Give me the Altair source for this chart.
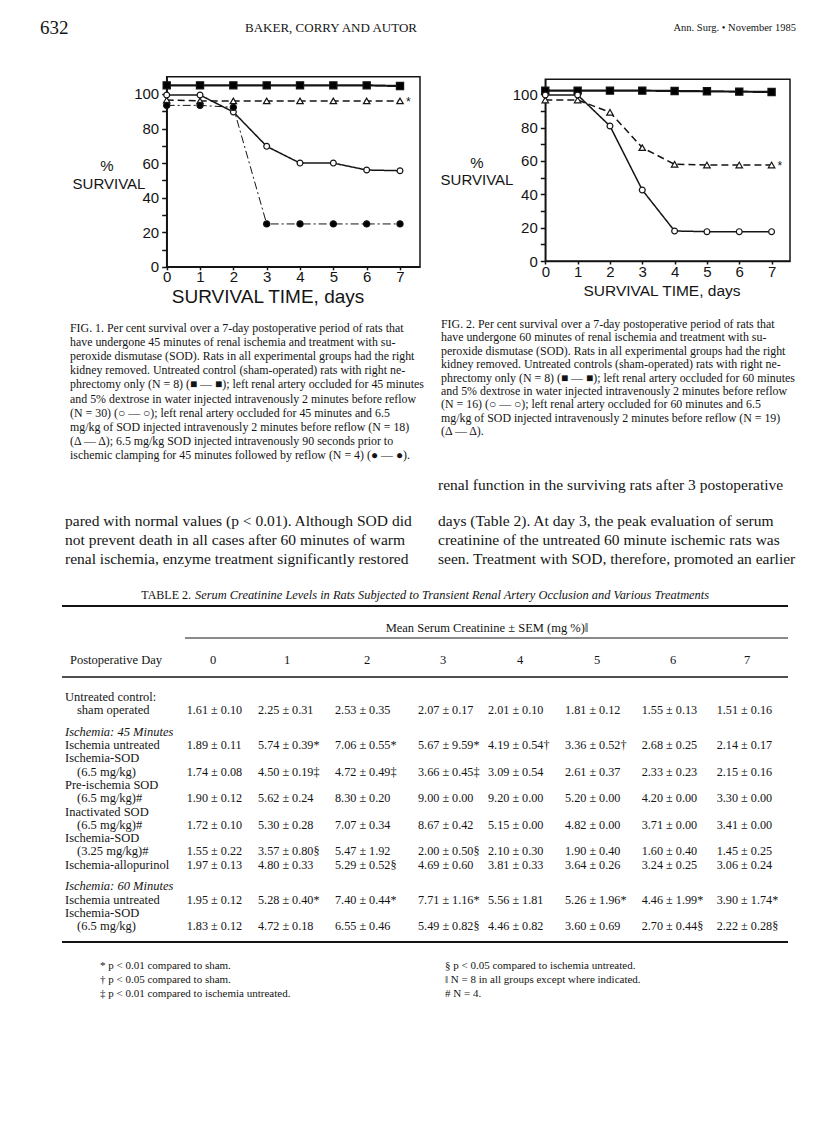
import altair as alt
import pandas as pd

# ---------------- data (read from the page) ----------------
DAYS = [0, 1, 2, 3, 4, 5, 6, 7]
SERIES = ["sham", "untreated", "sod", "pre"]

FIG1_SHAM = [105.0, 105.0, 105.0, 105.0, 105.0, 105.0, 105.0, 104.6]
FIG1_UNTREATED = [99.4, 99.4, 89.6, 69.7, 60.0, 60.0, 56.0, 55.6]
FIG1_SOD = [96.5, 96.0, 96.0, 96.0, 96.0, 96.0, 96.0, 96.0]
FIG1_PRE = [93.4, 93.4, 92.3, 24.8, 24.8, 24.8, 24.8, 24.8]

FIG2_SHAM = [102.2, 102.2, 102.2, 102.2, 102.0, 101.8, 101.6, 101.4]
FIG2_UNTREATED = [99.6, 99.6, 81.0, 42.6, 18.0, 17.6, 17.6, 17.6]
FIG2_SOD = [96.6, 96.6, 89.2, 68.0, 58.0, 57.6, 57.6, 57.6]

Y_TICKS = [0, 10, 20, 30, 40, 50, 60, 70, 80, 90, 100]

HEADER_LEFT = "632"
HEADER_CENTER = "BAKER, CORRY AND AUTOR"
HEADER_RIGHT = "Ann. Surg. \u2022 November 1985"
Y_TITLE = ["%", "SURVIVAL"]
X_TITLE = "SURVIVAL TIME, days"

CAPTION1 = [
    "FIG. 1. Per cent survival over a 7-day postoperative period of rats that",
    "have undergone 45 minutes of renal ischemia and treatment with su-",
    "peroxide dismutase (SOD). Rats in all experimental groups had the right",
    "kidney removed. Untreated control (sham-operated) rats with right ne-",
    "phrectomy only (N = 8) (\u25a0 \u2014 \u25a0); left renal artery occluded for 45 minutes",
    "and 5% dextrose in water injected intravenously 2 minutes before reflow",
    "(N = 30) (\u25cb \u2014 \u25cb); left renal artery occluded for 45 minutes and 6.5",
    "mg/kg of SOD injected intravenously 2 minutes before reflow (N = 18)",
    "(\u0394 \u2014 \u0394); 6.5 mg/kg SOD injected intravenously 90 seconds prior to",
    "ischemic clamping for 45 minutes followed by reflow (N = 4) (\u25cf \u2014 \u25cf).",
]
CAPTION2 = [
    "FIG. 2. Per cent survival over a 7-day postoperative period of rats that",
    "have undergone 60 minutes of renal ischemia and treatment with su-",
    "peroxide dismutase (SOD). Rats in all experimental groups had the right",
    "kidney removed. Untreated controls (sham-operated) rats with right ne-",
    "phrectomy only (N = 8) (\u25a0 \u2014 \u25a0); left renal artery occluded for 60 minutes",
    "and 5% dextrose in water injected intravenously 2 minutes before reflow",
    "(N = 16) (\u25cb \u2014 \u25cb); left renal artery occluded for 60 minutes and 6.5",
    "mg/kg of SOD injected intravenously 2 minutes before reflow (N = 19)",
    "(\u0394 \u2014 \u0394).",
]
BODY_LEFT = [
    "pared with normal values (p < 0.01). Although SOD did",
    "not prevent death in all cases after 60 minutes of warm",
    "renal ischemia, enzyme treatment significantly restored",
]
BODY_RIGHT_TOP = ["renal function in the surviving rats after 3 postoperative"]
BODY_RIGHT = [
    "days (Table 2). At day 3, the peak evaluation of serum",
    "creatinine of the untreated 60 minute ischemic rats was",
    "seen. Treatment with SOD, therefore, promoted an earlier",
]

TABLE_LABEL = "TABLE 2."
TABLE_TITLE = "Serum Creatinine Levels in Rats Subjected to Transient Renal Artery Occlusion and Various Treatments"
TABLE_SPANNER = "Mean Serum Creatinine \u00b1 SEM (mg %)\u2016"
TABLE_STUB = "Postoperative Day"
TABLE_DAYS = ["0", "1", "2", "3", "4", "5", "6", "7"]
ROW_LINES = [
    ("Untreated control:", "label"),
    ("sham operated", "indent"),
    ("Ischemia: 45 Minutes", "section"),
    ("Ischemia untreated", "label"),
    ("Ischemia-SOD", "label"),
    ("(6.5 mg/kg)", "indent"),
    ("Pre-ischemia SOD", "label"),
    ("(6.5 mg/kg)#", "indent"),
    ("Inactivated SOD", "label"),
    ("(6.5 mg/kg)#", "indent"),
    ("Ischemia-SOD", "label"),
    ("(3.25 mg/kg)#", "indent"),
    ("Ischemia-allopurinol", "label"),
    ("Ischemia: 60 Minutes", "section"),
    ("Ischemia untreated", "label"),
    ("Ischemia-SOD", "label"),
    ("(6.5 mg/kg)", "indent"),
]
ROW_SHAM = ["1.61 \u00b1 0.10", "2.25 \u00b1 0.31", "2.53 \u00b1 0.35", "2.07 \u00b1 0.17", "2.01 \u00b1 0.10", "1.81 \u00b1 0.12", "1.55 \u00b1 0.13", "1.51 \u00b1 0.16"]
ROW_45_UNTREATED = ["1.89 \u00b1 0.11", "5.74 \u00b1 0.39*", "7.06 \u00b1 0.55*", "5.67 \u00b1 9.59*", "4.19 \u00b1 0.54\u2020", "3.36 \u00b1 0.52\u2020", "2.68 \u00b1 0.25", "2.14 \u00b1 0.17"]
ROW_45_SOD = ["1.74 \u00b1 0.08", "4.50 \u00b1 0.19\u2021", "4.72 \u00b1 0.49\u2021", "3.66 \u00b1 0.45\u2021", "3.09 \u00b1 0.54", "2.61 \u00b1 0.37", "2.33 \u00b1 0.23", "2.15 \u00b1 0.16"]
ROW_PRE_SOD = ["1.90 \u00b1 0.12", "5.62 \u00b1 0.24", "8.30 \u00b1 0.20", "9.00 \u00b1 0.00", "9.20 \u00b1 0.00", "5.20 \u00b1 0.00", "4.20 \u00b1 0.00", "3.30 \u00b1 0.00"]
ROW_INACT_SOD = ["1.72 \u00b1 0.10", "5.30 \u00b1 0.28", "7.07 \u00b1 0.34", "8.67 \u00b1 0.42", "5.15 \u00b1 0.00", "4.82 \u00b1 0.00", "3.71 \u00b1 0.00", "3.41 \u00b1 0.00"]
ROW_SOD_325 = ["1.55 \u00b1 0.22", "3.57 \u00b1 0.80\u00a7", "5.47 \u00b1 1.92", "2.00 \u00b1 0.50\u00a7", "2.10 \u00b1 0.30", "1.90 \u00b1 0.40", "1.60 \u00b1 0.40", "1.45 \u00b1 0.25"]
ROW_ALLOPURINOL = ["1.97 \u00b1 0.13", "4.80 \u00b1 0.33", "5.29 \u00b1 0.52\u00a7", "4.69 \u00b1 0.60", "3.81 \u00b1 0.33", "3.64 \u00b1 0.26", "3.24 \u00b1 0.25", "3.06 \u00b1 0.24"]
ROW_60_UNTREATED = ["1.95 \u00b1 0.12", "5.28 \u00b1 0.40*", "7.40 \u00b1 0.44*", "7.71 \u00b1 1.16*", "5.56 \u00b1 1.81", "5.26 \u00b1 1.96*", "4.46 \u00b1 1.99*", "3.90 \u00b1 1.74*"]
ROW_60_SOD = ["1.83 \u00b1 0.12", "4.72 \u00b1 0.18", "6.55 \u00b1 0.46", "5.49 \u00b1 0.82\u00a7", "4.46 \u00b1 0.82", "3.60 \u00b1 0.69", "2.70 \u00b1 0.44\u00a7", "2.22 \u00b1 0.28\u00a7"]
VALUE_ROWS = [ROW_SHAM, ROW_45_UNTREATED, ROW_45_SOD, ROW_PRE_SOD, ROW_INACT_SOD,
              ROW_SOD_325, ROW_ALLOPURINOL, ROW_60_UNTREATED, ROW_60_SOD]
VALUE_ROW_LINE = [1, 3, 5, 7, 9, 11, 12, 14, 16]

FOOT_LEFT = ["* p < 0.01 compared to sham.",
             "\u2020 p < 0.05 compared to sham.",
             "\u2021 p < 0.01 compared to ischemia untreated."]
FOOT_RIGHT = ["\u00a7 p < 0.05 compared to ischemia untreated.",
              "\u2016 N = 8 in all groups except where indicated.",
              "# N = 4."]

# ---------------- layout (page pixels) ----------------
OFF = 8  # body margin
W, H = 800, 1120
SERIF = "Liberation Serif"
SANS = "Liberation Sans"
INK = "#141414"


def text_layer(items, size, font=SERIF, style="normal", weight="normal", align="left"):
    df = pd.DataFrame(items, columns=["text", "x", "y"])
    df["x"] = df["x"] - OFF
    df["y"] = df["y"] - OFF
    return alt.Chart(df).mark_text(
        font=font, fontSize=size, fontStyle=style, fontWeight=weight,
        align=align, baseline="middle", color=INK
    ).encode(
        x=alt.X("x:Q", scale=None, axis=None),
        y=alt.Y("y:Q", scale=None, axis=None),
        text="text:N",
    )


def block(lines, x, y0, step):
    return [(t, x, y0 + i * step) for i, t in enumerate(lines)]


layers = []
# header
layers.append(text_layer([(HEADER_LEFT, 40, 28)], 19))
layers.append(text_layer([(HEADER_CENTER, 331, 28)], 13, align="center"))
layers.append(text_layer([(HEADER_RIGHT, 796, 28)], 10.5, align="right"))

# axis titles of the two figures
layers.append(text_layer([(Y_TITLE[0], 107, 166), (Y_TITLE[1], 109, 184)], 15, font=SANS, align="center"))
layers.append(text_layer([(Y_TITLE[0], 477, 163), (Y_TITLE[1], 477, 180)], 15, font=SANS, align="center"))
layers.append(text_layer([(X_TITLE, 268, 297)], 19, font=SANS, align="center"))
layers.append(text_layer([(X_TITLE, 662, 291)], 15.5, font=SANS, align="center"))

# captions
layers.append(text_layer(block(CAPTION1, 70, 328, 14.1), 11.9))
layers.append(text_layer(block(CAPTION2, 441, 324, 13.4), 11.9))

# body text
layers.append(text_layer(block(BODY_RIGHT_TOP, 438, 485, 19), 15.5))
layers.append(text_layer(block(BODY_LEFT, 65, 521, 19), 15.5))
layers.append(text_layer(block(BODY_RIGHT, 438, 521, 19), 15.5))

# table
layers.append(text_layer([(TABLE_LABEL, 191, 595)], 12, align="right"))
layers.append(text_layer([(TABLE_TITLE, 195, 595)], 12.4, style="italic"))
layers.append(text_layer([(TABLE_SPANNER, 487, 628)], 12.5, align="center"))
layers.append(text_layer([(TABLE_STUB, 70, 660)], 12.5))
DAY_CENTERS = [213, 287, 367, 443, 520, 597, 673, 747]
layers.append(text_layer([(d, cx, 660) for d, cx in zip(TABLE_DAYS, DAY_CENTERS)], 12.5, align="center"))

line_y = []
y = 696.7
for i, (_, kind) in enumerate(ROW_LINES):
    if i > 0:
        y += 13.3 + (8.4 if kind == "section" else 0)
    line_y.append(y)
plain = [(t, 77 if k == "indent" else 65, line_y[i]) for i, (t, k) in enumerate(ROW_LINES) if k != "section"]
secs = [(t, 65, line_y[i]) for i, (t, k) in enumerate(ROW_LINES) if k == "section"]
layers.append(text_layer(plain, 12.5))
layers.append(text_layer(secs, 12.5, style="italic"))
VALUE_X = [186.7, 258, 335, 418, 488, 565, 641.7, 716.7]
cells = []
for row, li in zip(VALUE_ROWS, VALUE_ROW_LINE):
    for v, cx in zip(row, VALUE_X):
        cells.append((v, cx, line_y[li]))
layers.append(text_layer(cells, 12.2))

rules = pd.DataFrame({
    "x": [62, 185, 62, 62], "x2": [788, 788, 788, 788],
    "y": [606, 638, 677, 942], "w": [2.0, 1.0, 1.5, 2.0],
})
rules[["x", "x2", "y"]] = rules[["x", "x2", "y"]] - OFF
layers.append(alt.Chart(rules).mark_rule(color=INK).encode(
    x=alt.X("x:Q", scale=None, axis=None), x2="x2:Q",
    y=alt.Y("y:Q", scale=None, axis=None),
    strokeWidth=alt.StrokeWidth("w:Q", scale=None),
))

# footnotes
layers.append(text_layer(block(FOOT_LEFT, 100, 966, 14), 11))
layers.append(text_layer(block(FOOT_RIGHT, 445, 966, 14), 11))

page = alt.layer(*layers)

# ---------------- survival figures ----------------
STYLE = {
    "sham": dict(width=2.2, dash=[1, 0], shape="square", fill="black", size=52),
    "untreated": dict(width=1.5, dash=[1, 0], shape="circle", fill="white", size=34),
    "sod": dict(width=1.5, dash=[7, 4], shape="triangle-up", fill="white", size=42),
    "pre": dict(width=1.0, dash=[8, 3, 2, 3], shape="circle", fill="black", size=38),
}


def survival(series, left, right, top, bottom, x_max, y_max, star_series):
    rows = []
    for name, vals in series.items():
        for d, v in zip(DAYS, vals):
            rows.append({"series": name, "day": d, "pct": v})
    df = pd.DataFrame(rows)
    xs = alt.Scale(domain=[0, x_max], range=[left - OFF, right - OFF], nice=False, zero=False)
    ys = alt.Scale(domain=[0, y_max], range=[bottom - OFF, top - OFF], nice=False, zero=False)
    xaxis = alt.Axis(orient="bottom", offset=(bottom - OFF) - H, values=DAYS, title=None, grid=False,
                     labelFont=SANS, labelFontSize=15, labelColor=INK, labelPadding=0,
                     tickSize=3, tickWidth=1.5, tickColor=INK, domainColor=INK, domainWidth=1.5,
                     labelFlush=False)
    yaxis = alt.Axis(orient="left", offset=-(left - OFF), values=Y_TICKS, title=None, grid=False,
                     labelExpr="datum.value % 20 == 0 ? datum.label : ''",
                     labelFont=SANS, labelFontSize=15, labelColor=INK, labelPadding=3,
                     tickSize=5, tickWidth=1.5, tickColor=INK, domainColor=INK, domainWidth=1.5,
                     labelFlush=False)
    X = alt.X("day:Q", scale=xs, axis=xaxis)
    Y = alt.Y("pct:Q", scale=ys, axis=yaxis)
    parts = []
    frame = pd.DataFrame({"day": [0.0], "day2": [x_max], "pct": [0.0], "pct2": [y_max]})
    parts.append(alt.Chart(frame).mark_rect(filled=False, stroke=INK, strokeWidth=1.5).encode(
        x=X, x2="day2:Q", y=Y, y2="pct2:Q"))
    for name in series:
        st = STYLE[name]
        sub = df[df["series"] == name]
        parts.append(alt.Chart(sub).mark_line(color=INK, strokeWidth=st["width"],
                                              strokeDash=st["dash"]).encode(x=X, y=Y))
    for name in series:
        st = STYLE[name]
        sub = df[df["series"] == name]
        parts.append(alt.Chart(sub).mark_point(shape=st["shape"], filled=True, fill=st["fill"],
                                               stroke=INK, strokeWidth=1.2, size=st["size"],
                                               opacity=1).encode(x=X, y=Y))
    last = df[(df["series"] == star_series) & (df["day"] == DAYS[-1])]
    parts.append(alt.Chart(last).mark_text(text="*", align="left", dx=6, dy=1, fontSize=12,
                                           font=SANS, color=INK).encode(x=X, y=Y))
    return alt.layer(*parts)


fig1 = survival({"sham": FIG1_SHAM, "sod": FIG1_SOD, "untreated": FIG1_UNTREATED, "pre": FIG1_PRE},
                166.7, 420, 76.7, 266.8, 7.6, 110, "sod")
fig2 = survival({"sham": FIG2_SHAM, "sod": FIG2_SOD, "untreated": FIG2_UNTREATED},
                545.3, 790, 79.3, 261, 7.57, 109, "sod")

chart = alt.layer(page, fig1, fig2).resolve_scale(
    x="independent", y="independent"
).properties(
    width=W, height=H, padding=0, background="white"
).configure_view(stroke=None)

chart.save("out.html", embed_options={"renderer": "svg", "actions": False})
